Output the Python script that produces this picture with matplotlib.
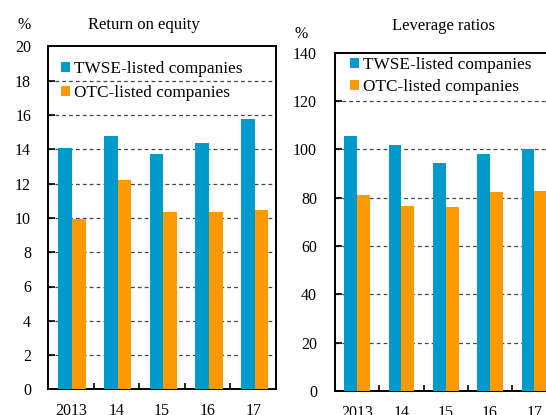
import matplotlib
matplotlib.use("Agg")
import matplotlib.pyplot as plt
import numpy as np

plt.rcParams['font.family'] = ['Liberation Serif', 'DejaVu Serif']

years = ["2013", "14", "15", "16", "17"]
series_names = ["TWSE-listed companies", "OTC-listed companies"]
roe_twse = [14.06, 14.78, 13.73, 14.37, 15.79]
roe_otc = [9.92, 12.22, 10.33, 10.37, 10.45]
lev_twse = [105.4, 101.6, 94.2, 98.2, 100.0]
lev_otc = [81.0, 76.6, 76.2, 82.4, 82.6]

BLUE = "#0099CC"
ORANGE = "#FF9900"
W, H = 546, 415

fig = plt.figure(figsize=(W / 100, H / 100), dpi=100)

def px_axes(x0, y0, x1, y1):
    return fig.add_axes([x0 / W, 1 - y1 / H, (x1 - x0) / W, (y1 - y0) / H])

def draw_panel(ax, twse, otc, ymax, ystep, width, xoff, ypad):
    x = np.arange(len(years))
    ax.bar(x - width / 2 + xoff, twse, width=width, color=BLUE, label=series_names[0], zorder=3, linewidth=0)
    ax.bar(x + width / 2 + xoff, otc, width=width, color=ORANGE, label=series_names[1], zorder=3, linewidth=0)
    ax.set_xlim(-0.5, len(years) - 0.5)
    ax.set_ylim(0, ymax)
    yt = np.arange(0, ymax + ystep / 2, ystep)
    ax.set_yticks(yt)
    ax.set_yticklabels([f"{int(v)}" for v in yt])
    for v in yt[1:-1]:
        ax.axhline(v, color="#444444", linestyle=(0, (3, 2.5)), linewidth=0.9, zorder=1)
    ax.set_xticks(np.arange(0.5, len(years) - 0.5, 1.0))
    ax.set_xticklabels([])
    ax.set_xticks(x, minor=True)
    ax.set_xticklabels(years, minor=True)
    ax.tick_params(axis='x', which='major', direction='in', length=4, width=1.2, color='black', top=False)
    ax.tick_params(axis='x', which='minor', length=0, pad=10, labelsize=11.5)
    ax.tick_params(axis='y', which='major', direction='in', length=5, width=1.2, pad=ypad, labelsize=11.5)
    for s in ax.spines.values():
        s.set_linewidth(1.4)
        s.set_color('black')

ax1 = px_axes(48, 46.4, 276, 389.4)
draw_panel(ax1, roe_twse, roe_otc, 20, 2, 0.3, 0.03, 12.2)
ax2 = px_axes(335, 52.6, 556.5, 391)
draw_panel(ax2, lev_twse, lev_otc, 140, 20, 0.29, 0.0, 13)

fig.text(144 / W, 1 - 25 / H, "Return on equity", ha='center', va='center', fontsize=12)
fig.text(24 / W, 1 - 25 / H, "%", ha='center', va='center', fontsize=11.5)
fig.text(444 / W, 1 - 26 / H, "Leverage ratios", ha='center', va='center', fontsize=12)
fig.text(301 / W, 1 - 34 / H, "%", ha='center', va='center', fontsize=11.5)

def add_legend(ax, x, y, spacing):
    ax.legend(loc='upper left', bbox_to_anchor=(x / W, 1 - y / H), bbox_transform=fig.transFigure,
              frameon=False, fontsize=12.4, handlelength=0.5, handleheight=0.5, handletextpad=0.25,
              labelspacing=spacing, borderpad=0, borderaxespad=0)

add_legend(ax1, 61, 61, 0.48)
add_legend(ax2, 350, 57, 0.36)

fig.savefig("out.png", dpi=100)
